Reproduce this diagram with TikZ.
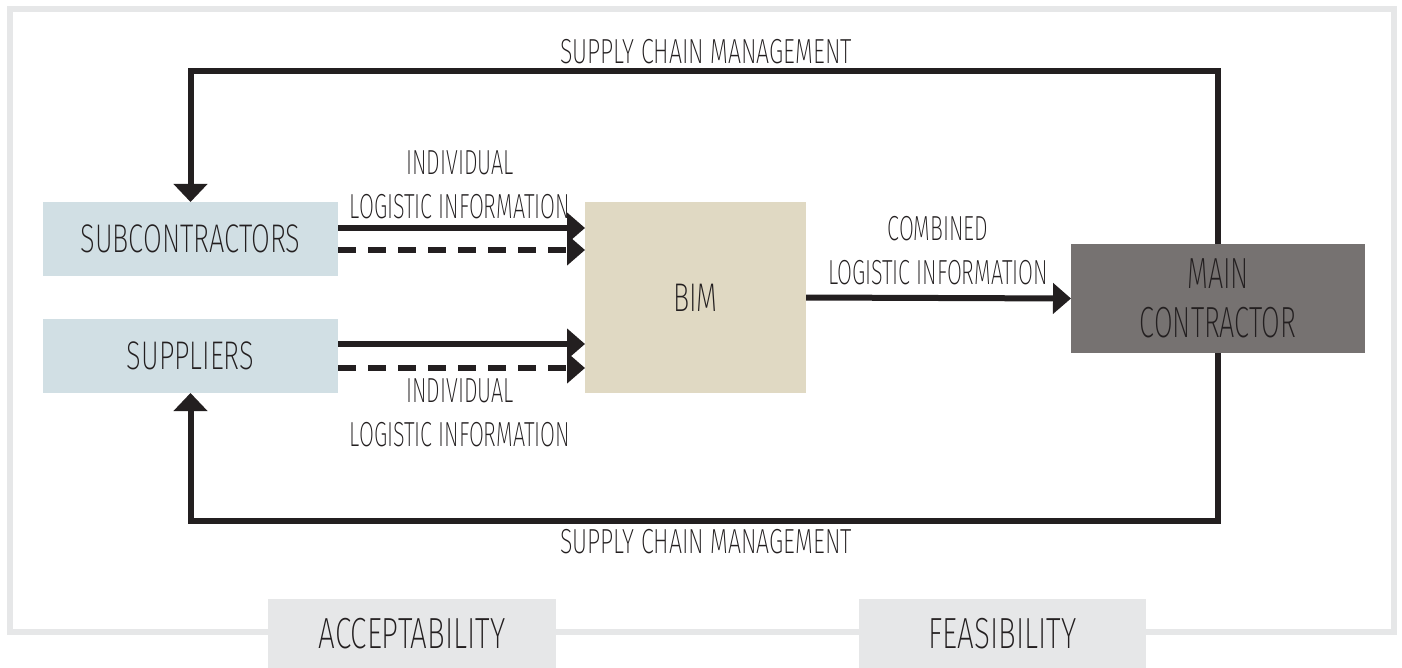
\documentclass[tikz,border=0pt]{standalone}
\usepackage{fontspec}
\setmainfont{Fira Sans ExtraLight}[FakeStretch=0.68]
\newfontfamily\lblfont{Fira Sans ExtraLight}[FakeStretch=0.62]
\newfontfamily\scmfont{Fira Sans ExtraLight}[FakeStretch=0.665]
\usetikzlibrary{arrows.meta}
\definecolor{subblue}{HTML}{D1DFE4}
\definecolor{bimbeige}{HTML}{E0D9C3}
\definecolor{maingray}{HTML}{767271}
\definecolor{framegray}{HTML}{E6E7E8}
\definecolor{ink}{HTML}{231F20}
\begin{document}
\begin{tikzpicture}[x=0.5pt,y=-0.5pt,
    box/.style={inner sep=0pt,outer sep=0pt,align=center,text=ink,font=\fontsize{20}{24.5}\selectfont},
    flow/.style={line width=3pt,draw=ink,-{Triangle[length=9pt,width=15pt]}},
    loop/.style={flow,-{Triangle[length=9pt,width=16.5pt]}},
    lbl/.style={align=center,text=ink,inner sep=0pt,font=\lblfont\fontsize{17.4}{22}\selectfont}]
    \useasboundingbox (0,0) rectangle (1402,668);
    \draw[framegray,line width=3pt] (10,9) rectangle (1394,632);
    \draw (190.5,239) node[box,fill=subblue,minimum width=147.5pt,minimum height=37pt] (sub) {SUBCONTRACTORS};
    \draw (190.5,356) node[box,fill=subblue,minimum width=147.5pt,minimum height=37pt] (sup) {SUPPLIERS};
    \draw (695.5,297.5) node[box,fill=bimbeige,minimum width=110.5pt,minimum height=95.5pt] (bim) {BIM};
    \draw (1218,298.5) node[box,fill=maingray,minimum width=147pt,minimum height=54.5pt,font=\lblfont\fontsize{21.8}{24.5}\selectfont] (main) {MAIN\\CONTRACTOR};
    \draw (412,633.5) node[box,fill=framegray,minimum width=144pt,minimum height=34.5pt,font=\fontsize{21.8}{24.5}\selectfont] (acc) {ACCEPTABILITY};
    \draw (1002.5,633.5) node[box,fill=framegray,minimum width=143.5pt,minimum height=34.5pt,font=\fontsize{21.8}{24.5}\selectfont] (feas) {FEASIBILITY};
    \draw (706,52) node[lbl,font=\scmfont\fontsize{17.4}{22}\selectfont] (scmtop) {SUPPLY CHAIN MANAGEMENT};
    \draw (706,542) node[lbl,font=\scmfont\fontsize{17.4}{22}\selectfont] (scmbot) {SUPPLY CHAIN MANAGEMENT};
    \draw (460,185) node[lbl] (indtop) {INDIVIDUAL\\LOGISTIC INFORMATION};
    \draw (460,413) node[lbl] (indbot) {INDIVIDUAL\\LOGISTIC INFORMATION};
    \draw (938,251) node[lbl] (comb) {COMBINED\\LOGISTIC INFORMATION};
    %
    \coordinate (topy) at (0,71);
    \coordinate (boty) at (0,521);
    \coordinate (s1) at ([yshift=5.5pt]sub.east);
    \coordinate (s2) at ([yshift=-5.5pt]sub.east);
    \coordinate (p1) at ([yshift=6pt]sup.east);
    \coordinate (p2) at ([yshift=-6pt]sup.east);
    \draw[flow] (s1) -- (s1 -| bim.west);
    \draw[flow,dash pattern=on 9pt off 6pt] (s2) -- (s2 -| bim.west);
    \draw[flow] (p1) -- (p1 -| bim.west);
    \draw[flow,dash pattern=on 9pt off 6pt] (p2) -- (p2 -| bim.west);
    \draw[flow] (bim.east) -- (main.west);
    \draw[loop] (main.north) -- (main.north |- topy) -| (sub.north);
    \draw[loop] (main.south) -- (main.south |- boty) -| (sup.south);
\end{tikzpicture}
\end{document}
